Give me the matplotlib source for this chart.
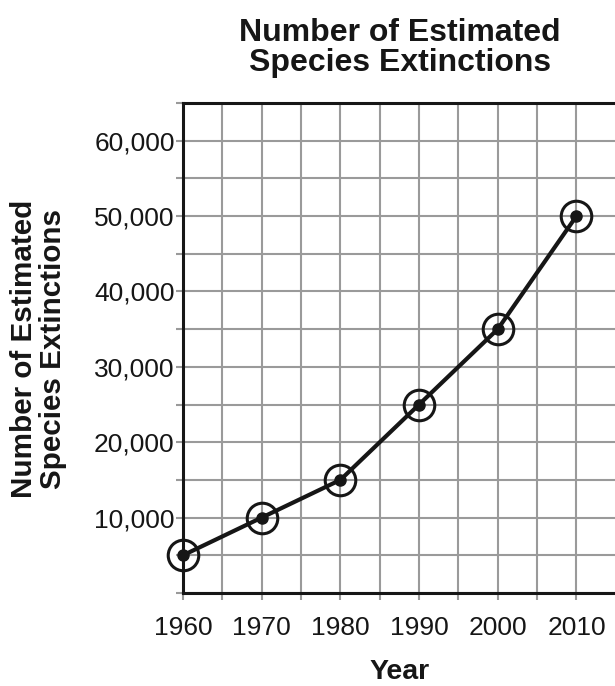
import matplotlib
matplotlib.use('Agg')
import matplotlib.pyplot as plt
import numpy as np

# Estimated species extinctions by decade
years = [1960, 1970, 1980, 1990, 2000, 2010]
extinctions = [5000, 10000, 15000, 25000, 35000, 50000]

x_labels = ['1960', '1970', '1980', '1990', '2000', '2010']
y_labels = ['', '10,000', '20,000', '30,000', '40,000', '50,000', '60,000']

plt.rcParams['font.family'] = ['Liberation Sans', 'DejaVu Sans']

fig = plt.figure(figsize=(6.15, 6.86), dpi=100)
ax = fig.add_axes([0.2976, 0.1356, 0.7024, 0.7143])

ink = '#161616'
grid_color = '#9a9a9a'

# Grid every 5 years / 5,000 species, labels on every other line
ax.set_xticks(np.arange(1960, 2015, 5))
ax.set_yticks(np.arange(0, 65001, 5000))
ax.set_xticklabels(sum([[lab, ''] for lab in x_labels], [])[:11])
ax.set_yticklabels(sum([[lab, ''] for lab in y_labels], [])[:14])
ax.grid(True, color=grid_color, linewidth=1.5, zorder=0)
ax.tick_params(axis='both', length=5, width=1.5, color=grid_color,
               labelsize=19, labelcolor=ink)
ax.tick_params(axis='x', pad=11.5)
ax.tick_params(axis='y', pad=1)

ax.set_xlim(1960, 2014.9)
ax.set_ylim(0, 65000)

for side in ['left', 'top', 'bottom']:
    ax.spines[side].set_color(ink)
    ax.spines[side].set_linewidth(2.2)
    ax.spines[side].set_zorder(3)
ax.spines['right'].set_visible(False)

# Data line with dot and ring markers
ax.plot(years, extinctions, color=ink, linewidth=3, zorder=4, clip_on=False)
ax.plot(years, extinctions, linestyle='none', marker='o', markersize=22,
        markerfacecolor='none', markeredgecolor=ink,
        markeredgewidth=2.2, zorder=5, clip_on=False)
ax.plot(years, extinctions, linestyle='none', marker='o', markersize=8,
        color=ink, zorder=6, clip_on=False)

fig.text(0.65, 0.930, 'Number of Estimated\nSpecies Extinctions',
         ha='center', va='center', fontsize=23, fontweight='bold',
         color=ink, linespacing=1.04)
fig.text(0.062, 0.491, 'Number of Estimated\nSpecies Extinctions',
         ha='center', va='center', rotation=90, fontsize=21.3,
         fontweight='bold', color=ink, linespacing=1.04)
fig.text(0.65, 1 - 679 / 686, 'Year', ha='center', va='baseline',
         fontsize=20.5, fontweight='bold', color=ink)

fig.savefig('out.png', dpi=100)
